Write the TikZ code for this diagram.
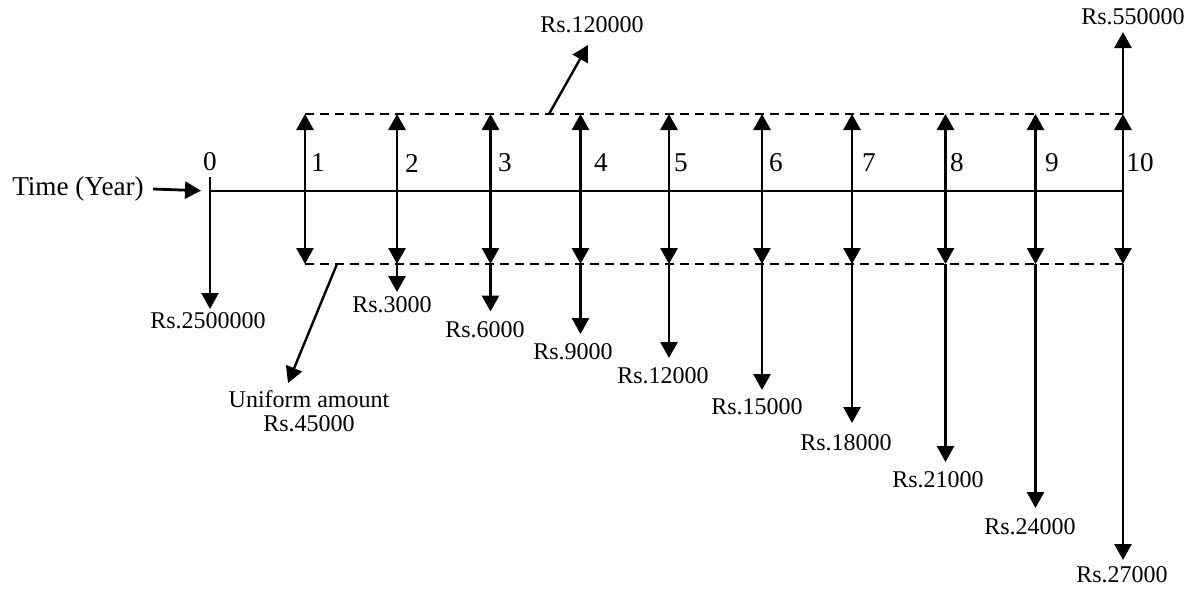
\documentclass[tikz,border=0pt]{standalone}
\usepackage{fontspec}
\setmainfont{Liberation Serif}
\usetikzlibrary{arrows.meta}
\begin{document}
\begin{tikzpicture}[x=0.5pt,y=-0.5pt,
  ln/.style={line width=1.4pt},
  arr/.style={ln,-{Triangle[width=8.5pt,length=8pt]}},
  darr/.style={ln,{Triangle[width=8.5pt,length=8pt]}-{Triangle[width=8.5pt,length=8pt]}},
  dashline/.style={line width=1pt,dash pattern=on 4.5pt off 3pt},
  rs/.style={inner sep=0pt,font=\fontsize{12}{13}\selectfont},
  yr/.style={inner sep=0pt,font=\fontsize{13.6}{15}\selectfont}]
\useasboundingbox (0,0) rectangle (1191,589);
% axis
\coordinate (a0) at (210,190.7);
\coordinate (a10) at (1123,190.7);
\draw[line width=1.1pt] (a0) -- (a10);
\coordinate (tk) at (210,177);
\draw[line width=1.1pt] (tk) -- (a0);
\node[yr] (time) at (78,189) {Time (Year)};
\coordinate (tin) at (201,190.7);
\draw[arr] ([xshift=4.5pt]time.east) -- (tin);
% year 0
\node[yr] (l0) at (210,162) {0};
\coordinate (d0) at (210,309);
\draw[arr] (a0) -- (d0);
\node[rs] (r0) at (208,321) {Rs.2500000};
% dashed lines
\coordinate (tl) at (305,114); \coordinate (tr) at (1123,114);
\coordinate (bl) at (305,264); \coordinate (br) at (1123,264);
\draw[dashline] (tl) -- (tr);
\draw[dashline] (bl) -- (br);
% years
\foreach \i/\x/\tip/\lx/\rx/\ry/\val in {
  1/305/0/318/0/0/,
  2/397/292/412/392/305/Rs.3000,
  3/490.5/311.5/505/485/330/Rs.6000,
  4/580.5/334/601/573/352/Rs.9000,
  5/669/358/681/663/376/Rs.12000,
  6/762/390/776/757/407/Rs.15000,
  7/852/423/869/846/443/Rs.18000,
  8/945.5/462/957/938/480/Rs.21000,
  9/1035.5/508/1052/1030/527/Rs.24000,
  10/1123/560/1140/1122/575/Rs.27000}{
  \coordinate (t\i) at (\x,114);
  \coordinate (b\i) at (\x,264);
  \draw[darr] (b\i) -- (t\i);
  \node[yr] (l\i) at (\lx,163) {\i};
  \ifnum\i>1
    \coordinate (d\i) at (\x,\tip);
    \draw[arr] (b\i) -- (d\i);
    \node[rs] (r\i) at (\rx,\ry) {\val};
  \fi
}
% year 10 up
\coordinate (u10) at (1123,32);
\draw[arr] (t10) -- (u10);
\node[rs] (r550) at (1133,17) {Rs.550000};
% pointers
\coordinate (p1) at (549,114);
\node[rs] (r120) at (592,25) {Rs.120000};
\coordinate (p1t) at (588,45);
\draw[arr,line width=1.2pt] (p1) -- (p1t);
\coordinate (p2) at (337,264);
\coordinate (p2t) at (288,383);
\draw[arr,line width=1.2pt] (p2) -- (p2t);
\node[rs,align=center] (uni) at (309,411) {Uniform amount\\[-1pt]Rs.45000};
\end{tikzpicture}
\end{document}
